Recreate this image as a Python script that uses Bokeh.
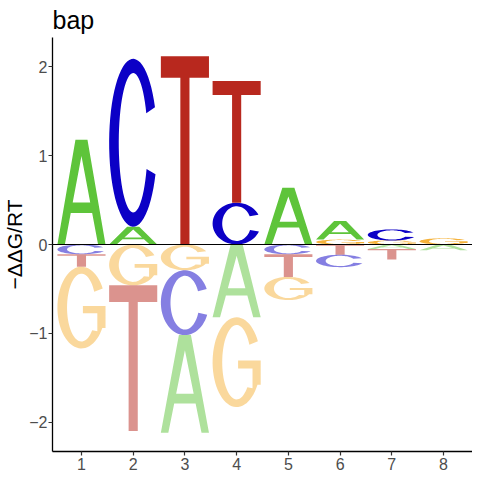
import numpy as np
from bokeh.plotting import figure
from bokeh.models import ColumnDataSource, Range1d, FixedTicker, Span
from bokeh.embed import file_html
from bokeh.resources import INLINE

# ---- data ----
positions = [1, 2, 3, 4, 5, 6, 7, 8]
letters = ["A", "C", "G", "T"]
val_A = [1.18, 0.20, -1.10, -0.82, 0.64, 0.21, -0.05, -0.065]
val_C = [-0.11, 1.89, -0.73, 0.47, -0.11, -0.14, 0.125, 0.0]
val_G = [-0.92, -0.46, -0.29, -1.01, -0.26, 0.055, 0.045, 0.07]
val_T = [-0.14, -1.64, 2.12, 1.37, -0.255, -0.115, -0.12, 0.0]
y_ticks = [-2, -1, 0, 1, 2]

colors = {"A": "#5ec43a", "C": "#0c00c6", "G": "#f5b23a", "T": "#b8281e"}
LETTER_W = 0.93


# ---- letter outlines in a unit box ----
def ring(a0, a1, rx, ry, n=60):
    t = np.radians(np.linspace(a0, a1, n))
    return list(0.5 + rx * np.cos(t)), list(0.5 + ry * np.sin(t))


def letter_shape(ch):
    if ch == "A":
        outer = ([0, 0.375, 0.625, 1, 0.845, 0.7225, 0.2775, 0.155],
                 [0, 1, 1, 0, 0, 0.30, 0.30, 0])
        hole = ([0.318, 0.682, 0.5], [0.40, 0.40, 0.845])
        return [outer, hole]
    if ch == "T":
        return [([0, 1, 1, 0.595, 0.595, 0.405, 0.405, 0],
                 [1, 1, 0.885, 0.885, 0, 0, 0.885, 0.885])]
    tx, ty = 0.20, 0.085
    if ch == "C":
        ox, oy = ring(25, 338, 0.5, 0.5)
        ix, iy = ring(338, 25, 0.5 - tx, 0.5 - ty)
        return [(ox + ix, oy + iy)]
    if ch == "G":
        ox, oy = ring(28, 330, 0.5, 0.5)
        ix, iy = ring(318, 28, 0.5 - tx, 0.5 - ty)
        mx = [1.0, 1.0, 0.53, 0.53, 0.83, 0.83]
        my = [0.25, 0.52, 0.52, 0.43, 0.43, 0.21]
        return [(ox + mx + ix, oy + my + iy)]


vals = {"A": val_A, "C": val_C, "G": val_G, "T": val_T}
xs, ys, fills, alphas = [], [], [], []
for i, pos in enumerate(positions):
    col = [(ch, vals[ch][i]) for ch in letters if vals[ch][i] != 0]
    pos_l = sorted([c for c in col if c[1] > 0], key=lambda c: c[1])
    neg_l = sorted([c for c in col if c[1] < 0], key=lambda c: -c[1])
    for group, sign in ((pos_l, 1), (neg_l, -1)):
        base = 0.0
        for ch, v in group:
            h = abs(v)
            y0 = base if sign > 0 else base - h
            rings_x, rings_y = [], []
            for (u, w) in letter_shape(ch):
                rings_x.append([pos - LETTER_W / 2 + uu * LETTER_W for uu in u])
                rings_y.append([y0 + ww * h for ww in w])
            xs.append([rings_x])
            ys.append([rings_y])
            fills.append(colors[ch])
            alphas.append(1.0 if sign > 0 else 0.5)
            base = base + h if sign > 0 else base - h

src = ColumnDataSource(dict(xs=xs, ys=ys, fill=fills, alpha=alphas))

p = figure(width=472, height=472, output_backend="svg", toolbar_location=None,
           x_range=Range1d(0.44, 8.56), y_range=Range1d(-2.33, 2.33),
           min_border_left=5, min_border_right=0, min_border_top=30,
           min_border_bottom=5)
p.multi_polygons(xs="xs", ys="ys", source=src, fill_color="fill",
                 fill_alpha="alpha", line_color=None)
p.add_layout(Span(location=0, dimension="width", line_color="black",
                  line_width=1.2))

p.title.text = "bap"
p.title.text_font = "Liberation Sans"
p.title.text_font_size = "25px"
p.title.text_font_style = "normal"
p.title.text_color = "black"
p.title.standoff = 7

p.xaxis.ticker = FixedTicker(ticks=positions)
p.yaxis.ticker = FixedTicker(ticks=y_ticks)
p.yaxis.axis_label = "\u2212\u0394\u0394G/RT"
p.yaxis.axis_label_text_font = "Liberation Sans"
p.yaxis.axis_label_text_font_size = "21px"
p.yaxis.axis_label_text_font_style = "normal"
p.yaxis.axis_label_text_color = "black"
p.yaxis.axis_label_standoff = 0
for ax in (p.xaxis, p.yaxis):
    ax.axis_line_color = "black"
    ax.axis_line_width = 1.3
    ax.major_tick_line_color = "#333333"
    ax.major_tick_line_width = 1.2
    ax.major_tick_in = 0
    ax.major_tick_out = 4
    ax.minor_tick_line_color = None
    ax.major_label_text_font = "Liberation Sans"
    ax.major_label_text_font_size = "16px"
    ax.major_label_text_color = "#4d4d4d"
p.xaxis.major_label_standoff = 2
p.yaxis.major_label_standoff = 1
p.grid.visible = False
p.outline_line_color = None
p.background_fill_color = "white"
p.border_fill_color = "white"

open("out.html", "w").write(file_html(p, INLINE))
